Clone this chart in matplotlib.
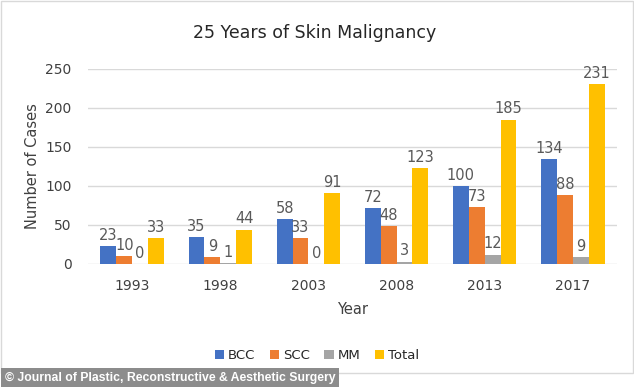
import matplotlib.pyplot as plt
import numpy as np

years = ['1993', '1998', '2003', '2008', '2013', '2017']
bcc = [23, 35, 58, 72, 100, 134]
scc = [10, 9, 33, 48, 73, 88]
mm = [0, 1, 0, 3, 12, 9]
total = [33, 44, 91, 123, 185, 231]

series = [('BCC', bcc, '#4472C4'), ('SCC', scc, '#ED7D31'),
          ('MM', mm, '#A5A5A5'), ('Total', total, '#FFC000')]

fig = plt.figure(figsize=(6.34, 3.87), dpi=100)
ax = fig.add_axes([0.139, 0.318, 0.834, 0.504])

x = np.arange(len(years))
w = 0.18
txt = '#595959'
for i, (name, vals, col) in enumerate(series):
    pos = x + (i - 1.5) * w
    ax.bar(pos, vals, w, color=col, label=name, zorder=3)
    for p, v in zip(pos, vals):
        ax.text(p, v + 4, str(v), ha='center', va='bottom', fontsize=10.5, color=txt)

ax.set_xlim(-0.5, 5.5)
ax.set_ylim(0, 250)
ax.set_yticks([0, 50, 100, 150, 200, 250])
ax.set_xticks(x)
ax.set_xticklabels(years)
ax.yaxis.grid(True, color='#D9D9D9', linewidth=1, zorder=0)
for s in ax.spines.values():
    s.set_visible(False)
ax.tick_params(axis='y', length=0, labelsize=10, labelcolor='#404040', pad=12)
ax.tick_params(axis='x', length=0, labelsize=10, labelcolor='#404040', pad=11)
ax.set_ylabel('Number of Cases', fontsize=10.5, color='#404040', labelpad=4)
ax.set_xlabel('Year', fontsize=10.5, color='#404040', labelpad=6)
fig.text(0.497, 0.915, '25 Years of Skin Malignancy', fontsize=12.5,
         color='#262626', ha='center', va='center')

fig.legend(*ax.get_legend_handles_labels(), loc='center', bbox_to_anchor=(0.5, 0.082),
           ncol=4, frameon=False, fontsize=9.5, handlelength=0.7, handleheight=0.7,
           handletextpad=0.3, columnspacing=1.1, labelcolor='#262626')

fig.patches.append(plt.Rectangle((0.002, 0.036), 0.996, 0.962, transform=fig.transFigure,
                                 fill=False, edgecolor='#D9D9D9', linewidth=1))
fig.text(0.008, 0.008, '\u00a9 Journal of Plastic, Reconstructive & Aesthetic Surgery',
         fontsize=8.8, color='white', ha='left', va='bottom', fontweight='bold',
         family='Liberation Sans',
         bbox=dict(boxstyle='square,pad=0.3', facecolor='#8C8C8C', edgecolor='none'))

fig.savefig('out.png', dpi=100)
